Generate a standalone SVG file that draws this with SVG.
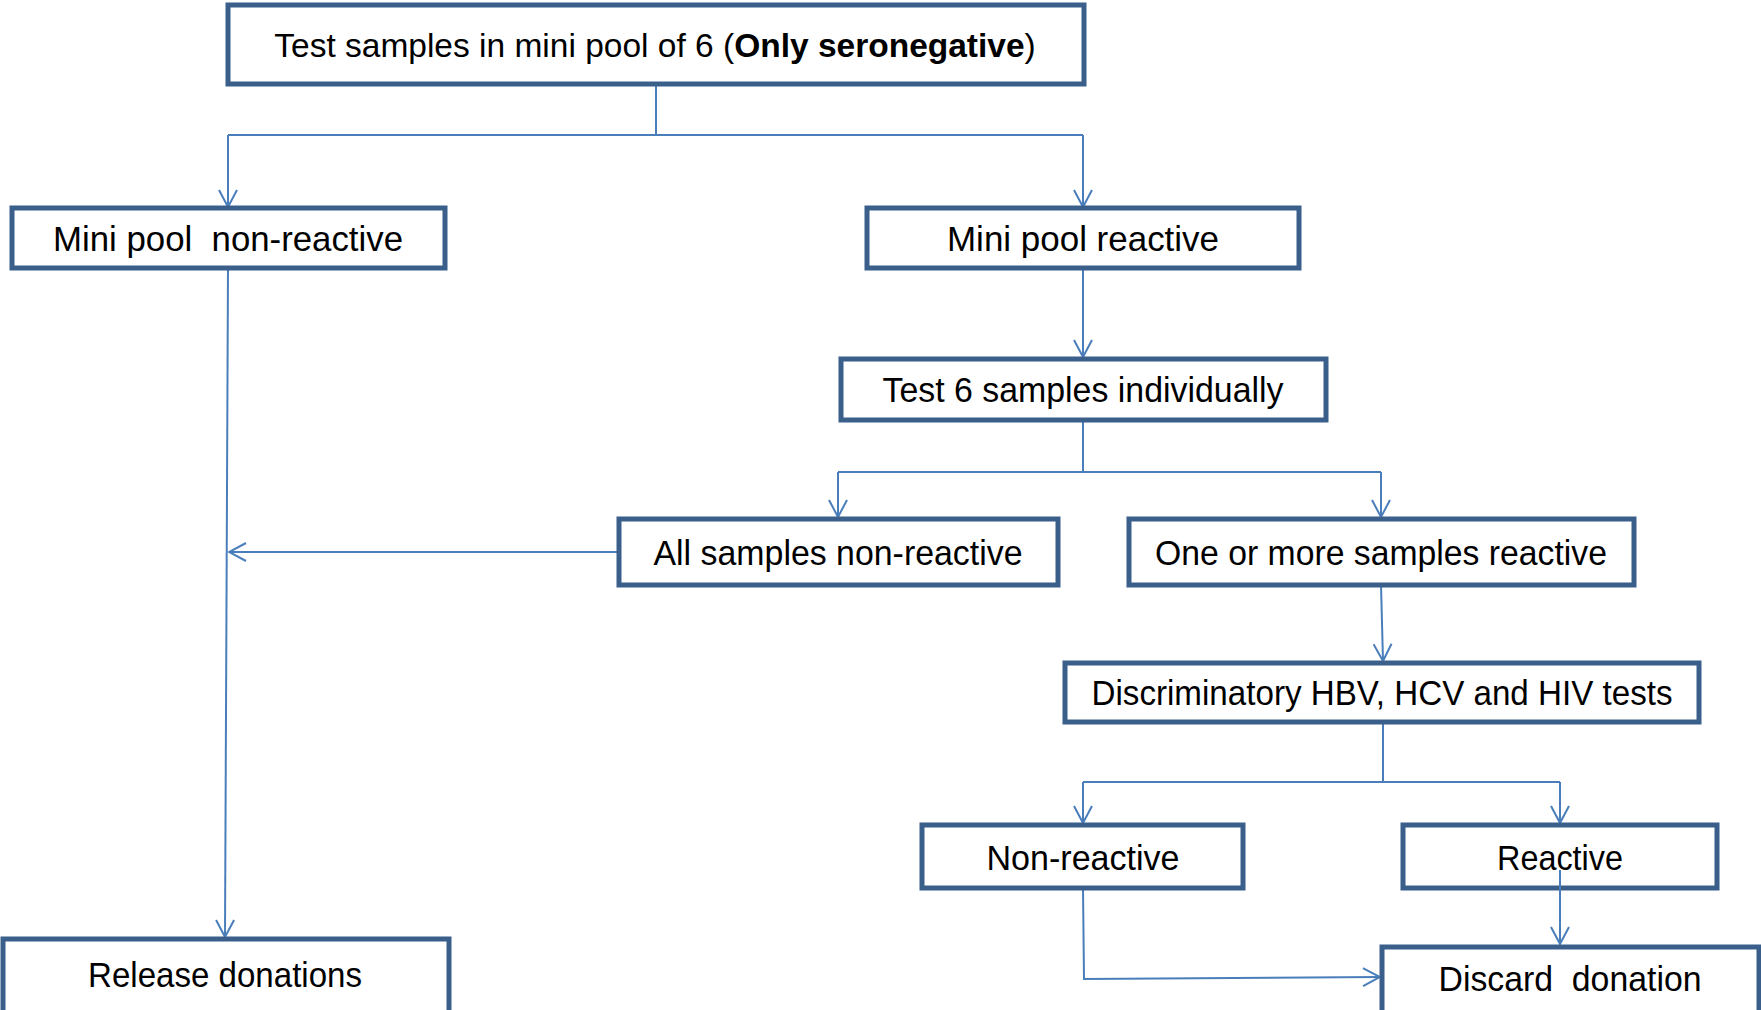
<svg xmlns="http://www.w3.org/2000/svg" width="1761" height="1010" viewBox="0 0 1761 1010">
<style>
.box{fill:#fff;stroke:#3a5f8b;stroke-width:5}
.lbl{font-family:"Liberation Sans",Arial,sans-serif;font-size:35px;fill:#000;text-anchor:middle}
.con{fill:none;stroke:#4a7ebb;stroke-width:2}
</style>
<defs>
<marker id="arr" viewBox="0 0 20 20" refX="19" refY="10" markerWidth="20" markerHeight="20" markerUnits="userSpaceOnUse" orient="auto">
<path d="M2,1 L19,10 L2,19" fill="none" stroke="#4a7ebb" stroke-width="2"/>
</marker>
</defs>
<rect width="1761" height="1010" fill="#fff"/>
<g id="connectors">
<path class="con" d="M656,84 V135"/>
<path class="con" d="M228,135 H1083"/>
<path class="con" d="M228,135 V207" marker-end="url(#arr)"/>
<path class="con" d="M1083,135 V207" marker-end="url(#arr)"/>
<path class="con" d="M1083,268 V357" marker-end="url(#arr)"/>
<path class="con" d="M1083,420 V472"/>
<path class="con" d="M838,472 H1381"/>
<path class="con" d="M838,472 V517" marker-end="url(#arr)"/>
<path class="con" d="M1381,472 V517" marker-end="url(#arr)"/>
<path class="con" d="M619,552 H229" marker-end="url(#arr)"/>
<path class="con" d="M228,268 L225,937" marker-end="url(#arr)"/>
<path class="con" d="M1381,585 L1383,661" marker-end="url(#arr)"/>
<path class="con" d="M1383,722 V782"/>
<path class="con" d="M1083,782 H1560"/>
<path class="con" d="M1083,782 V823" marker-end="url(#arr)"/>
<path class="con" d="M1560,782 V823" marker-end="url(#arr)"/>
<path class="con" d="M1083,888 L1084,979 L1380,977" marker-end="url(#arr)"/>
</g>
<g id="n_top">
<rect class="box" x="228" y="5" width="856" height="79"/>
<text class="lbl" x="655" y="57" style="font-size:33.5px">Test samples in mini pool of 6 (<tspan font-weight="bold">Only seronegative</tspan>)</text>
</g>
<g id="n_pool_nonreactive">
<rect class="box" x="12" y="208" width="433" height="60"/>
<text class="lbl" x="228" y="251" textLength="350" lengthAdjust="spacingAndGlyphs" xml:space="preserve">Mini pool  non-reactive</text>
</g>
<g id="n_pool_reactive">
<rect class="box" x="867" y="208" width="432" height="60"/>
<text class="lbl" x="1083" y="251" textLength="272" lengthAdjust="spacingAndGlyphs">Mini pool reactive</text>
</g>
<g id="n_test6">
<rect class="box" x="841" y="359" width="485" height="61"/>
<text class="lbl" x="1083" y="402" textLength="401" lengthAdjust="spacingAndGlyphs">Test 6 samples individually</text>
</g>
<g id="n_all_nonreactive">
<rect class="box" x="619" y="519" width="439" height="66"/>
<text class="lbl" x="838" y="565" textLength="369" lengthAdjust="spacingAndGlyphs">All samples non-reactive</text>
</g>
<g id="n_one_reactive">
<rect class="box" x="1129" y="519" width="505" height="66"/>
<text class="lbl" x="1381" y="565" textLength="452" lengthAdjust="spacingAndGlyphs">One or more samples reactive</text>
</g>
<g id="n_discriminatory">
<rect class="box" x="1065" y="663" width="634" height="59"/>
<text class="lbl" x="1382" y="705" textLength="581" lengthAdjust="spacingAndGlyphs">Discriminatory HBV, HCV and HIV tests</text>
</g>
<g id="n_nonreactive">
<rect class="box" x="922" y="825" width="321" height="63"/>
<text class="lbl" x="1083" y="870" textLength="193" lengthAdjust="spacingAndGlyphs">Non-reactive</text>
</g>
<g id="n_reactive">
<rect class="box" x="1403" y="825" width="314" height="63"/>
<text class="lbl" x="1560" y="870" textLength="126" lengthAdjust="spacingAndGlyphs">Reactive</text>
</g>
<path class="con" d="M1560,870 V944" marker-end="url(#arr)"/>
<g id="n_release">
<rect class="box" x="3" y="939" width="446" height="80"/>
<text class="lbl" x="225" y="987" textLength="274" lengthAdjust="spacingAndGlyphs">Release donations</text>
</g>
<g id="n_discard">
<rect class="box" x="1382" y="947" width="377" height="80"/>
<text class="lbl" x="1570" y="991" textLength="263" lengthAdjust="spacingAndGlyphs" xml:space="preserve">Discard  donation</text>
</g>
</svg>
